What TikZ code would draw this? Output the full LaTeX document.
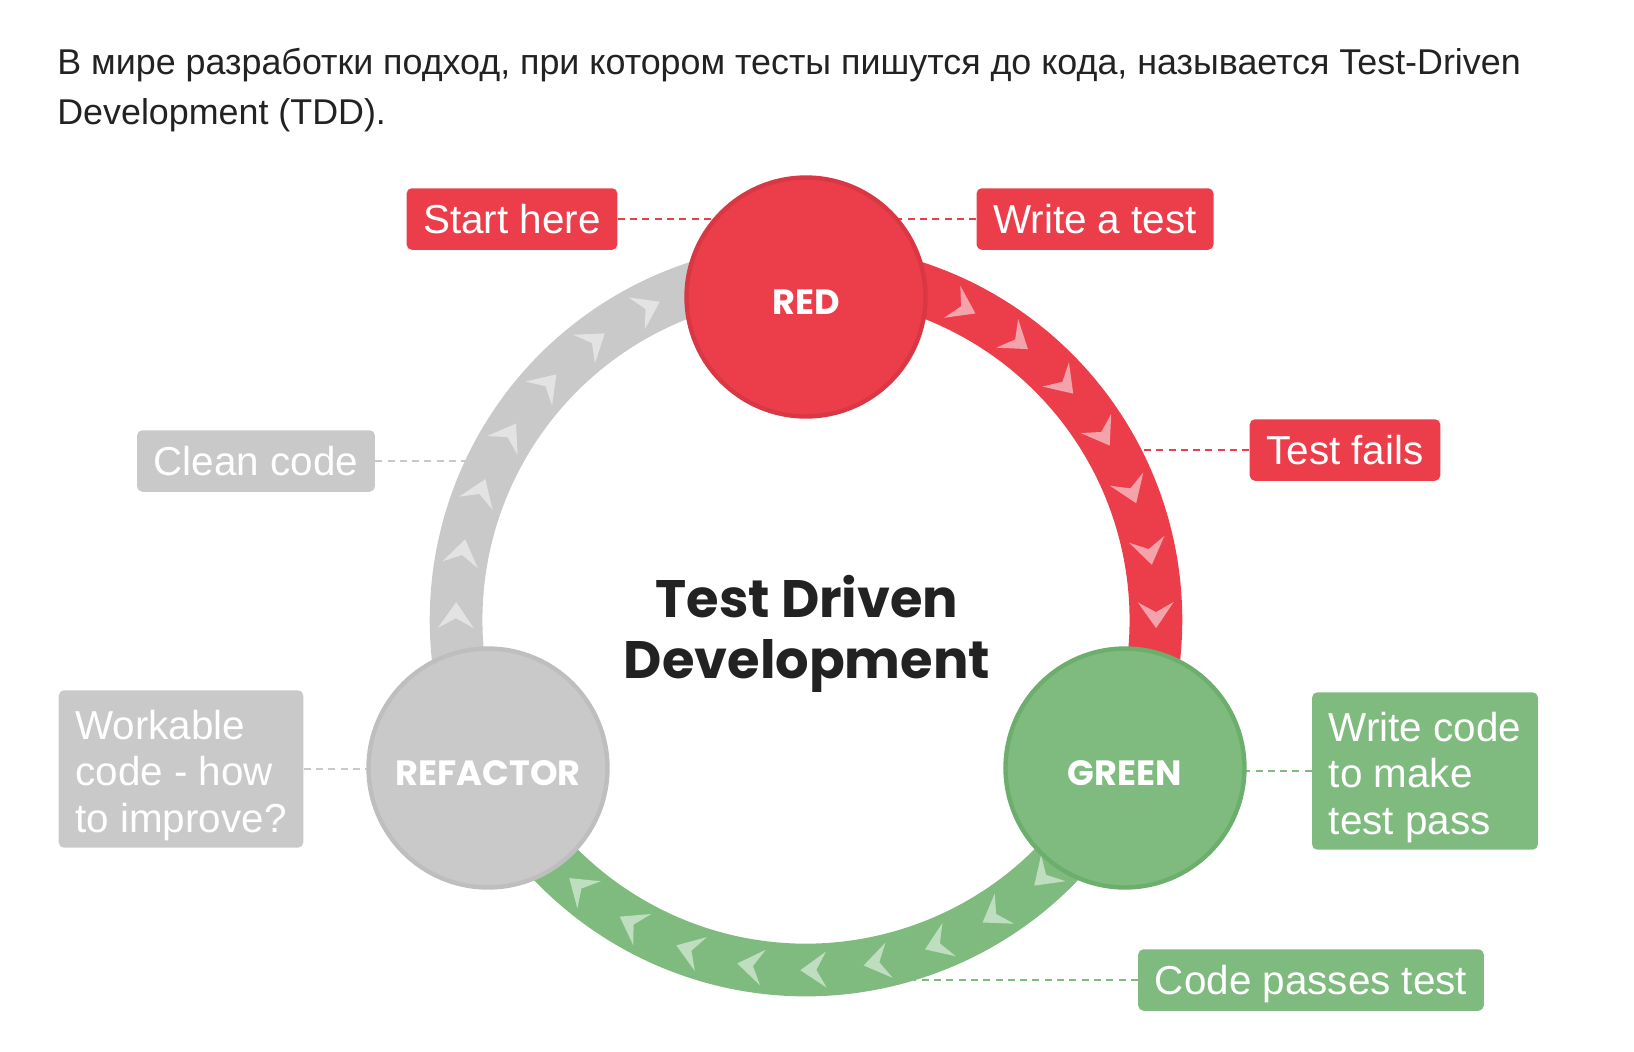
\documentclass[tikz,border=0pt]{standalone}
\usepackage{fontspec}
\setmainfont{Liberation Sans}
\newfontfamily\poppins{Poppins}
\usetikzlibrary{backgrounds}

\definecolor{tddred}{HTML}{EB3E4A}
\definecolor{tddredline}{HTML}{D93744}
\definecolor{tddredlight}{HTML}{F4A3AA}
\definecolor{tddgreen}{HTML}{7FBB7F}
\definecolor{tddgreenline}{HTML}{6CAE6C}
\definecolor{tddgreenlight}{HTML}{BFDEBF}
\definecolor{tddgray}{HTML}{C9C9C9}
\definecolor{tddgrayline}{HTML}{BEBEBE}
\definecolor{tddgraylight}{HTML}{E3E3E3}
\definecolor{tddtext}{HTML}{222222}

\newcommand{\firstline}{\rule{0pt}{24pt}}

\tikzset{
  phase/.style={circle, minimum size=136pt, inner sep=0pt, line width=2.5pt,
    text height=19.6pt, text depth=0pt,
    text=white, font=\poppins\bfseries\fontsize{20}{24}\selectfont},
  tag/.style={rounded corners=3pt, text=white, inner xsep=9.5pt, inner ysep=0pt,
    minimum height=35pt, text height=16.5pt, text depth=0pt,
    font=\fontsize{23}{26.6}\selectfont},
  multitag/.style={rounded corners=3pt, text=white, inner xsep=9.5pt, inner ysep=0pt,
    minimum height=89.6pt, align=left, font=\fontsize{23}{26.6}\selectfont},
  ring/.style={line width=30pt},
  link/.style={dash pattern=on 4pt off 3pt, line width=0.7pt},
  intro/.style={anchor=base west, inner sep=0pt, text=tddtext,
    font=\fontsize{20.4}{28}\selectfont}
}

\begin{document}
\begin{tikzpicture}[x=0.02cm, y=0.02cm]
  \useasboundingbox (0,0) rectangle (1634,-1052);

  % intro text
  \node[intro] (intro1) at (57,-74) {В мире разработки подход, при котором тесты пишутся до кода, называется Test-Driven};
  \node[intro] (intro2) at (57,-124) {Development (TDD).};

  % phases
  \coordinate (O) at (806,-620);
  \node[phase, fill=tddred, draw=tddredline] (red) at (806,-297) {RED};
  \node[phase, fill=tddgreen, draw=tddgreenline] (green) at (1125,-768) {GREEN};
  \node[phase, fill=tddgray, draw=tddgrayline] (refactor) at (488,-768) {REFACTOR};

  % labels
  \node[tag, fill=tddred] (start) at (512,-219) {Start here};
  \node[tag, fill=tddred] (write) at (1095,-219) {Write a test};
  \node[tag, fill=tddred] (fails) at (1345,-450) {Test fails};
  \node[tag, fill=tddgray] (clean) at (256,-461) {Clean code};
  \node[multitag, fill=tddgray] (workable) at (181,-769) {\firstline Workable\\code - how\\to improve?};
  \node[multitag, fill=tddgreen] (makepass) at (1425,-771) {\firstline Write code\\to make\\test pass};
  \node[tag, fill=tddgreen] (passes) at (1311,-980) {Code passes test};

  % title
  \node[font=\poppins\bfseries\fontsize{30}{35}\selectfont, text=tddtext, align=center]
    (title) at (807,-634) {Test Driven\\Development};

  % ends of the links under the ring
  \coordinate (failsend) at (1110,-450);
  \coordinate (cleanend) at (490,-461);
  \coordinate (passesend) at (880,-980);

  \begin{scope}[on background layer]
    % dashed links
    \draw[link, tddred] (start.east) -- (start.east -| red.center);
    \draw[link, tddred] (write.west) -- (write.west -| red.center);
    \draw[link, tddred] (fails.west) -- (failsend);
    \draw[link, tddgray] (clean.east) -- (cleanend);
    \draw[link, tddgray] (workable.east) -- (workable.east -| refactor.center);
    \draw[link, tddgreen] (makepass.west) -- (makepass.west -| green.center);
    \draw[link, tddgreen] (passes.west) -- (passesend);

    % ring
    \draw[ring, tddgray] (O) ++(205:7cm) arc[start angle=205, end angle=90, radius=7cm];
    \draw[ring, tddred] (O) ++(90:7cm) arc[start angle=90, end angle=-25, radius=7cm];
    \draw[ring, tddgreen] (O) ++(-25:7cm) arc[start angle=-25, end angle=-155, radius=7cm];

    % chevrons
    \foreach \a in {63.2,52.8,...,0}
      \fill[tddredlight, shift={(O)}, rotate=\a] (350,-13) -- (368,13) -- (350,3) -- (332,13) -- cycle;
    \foreach \a in {-47.2,-57.6,...,-132}
      \fill[tddgreenlight, shift={(O)}, rotate=\a] (350,-13) -- (368,13) -- (350,3) -- (332,13) -- cycle;
    \foreach \a in {179.2,168.8,...,115}
      \fill[tddgraylight, shift={(O)}, rotate=\a] (350,-13) -- (368,13) -- (350,3) -- (332,13) -- cycle;
  \end{scope}
\end{tikzpicture}
\end{document}
